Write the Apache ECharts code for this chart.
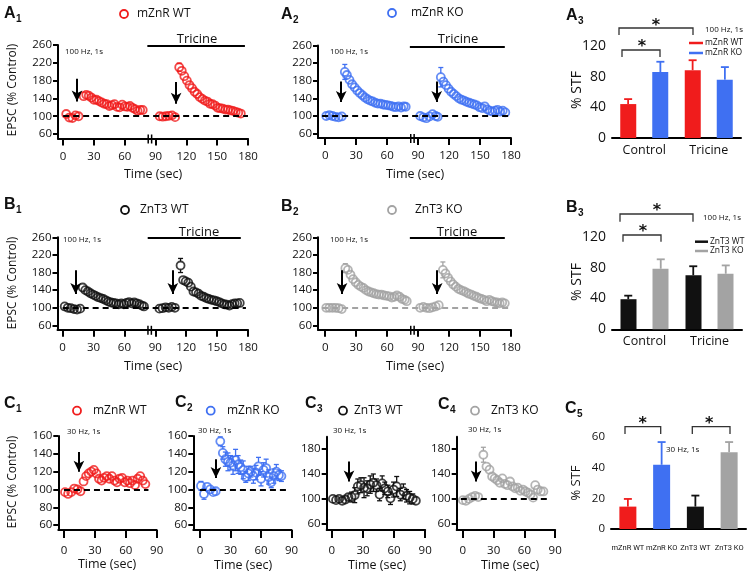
<!DOCTYPE html>
<html>
<head>
<meta charset="utf-8">
<script src="https://cdn.jsdelivr.net/npm/echarts@6/dist/echarts.min.js"></script>
<style>
html, body { margin: 0; background: #fff; }
#chart { width: 750px; height: 575px; }
</style>
</head>
<body>
<div id="chart"></div>
<script>
// ---------- data ----------
// A1 mZnR WT, 100 Hz
const a1Time = [3, 6, 9, 12, 15,
  20, 22.5, 25, 27.5, 30, 32.5, 35, 37.5, 40, 42.5, 45, 47.5, 50, 52.5, 55, 57.5, 60, 62.5, 65, 67.5, 70, 72.5, 75, 77.5,
  94, 97, 100, 103, 106, 109,
  113, 115.5, 118, 120.5, 123, 125.5, 128, 130.5, 133, 135.5, 138, 140.5, 143, 145.5, 148, 150.5, 153, 155.5, 158, 160.5, 163, 165.5, 168, 170.5, 173]
const a1Val = [105, 97, 96, 102, 100,
  145, 148, 146, 142, 137, 137, 134, 131, 128, 127, 123, 125, 127, 121, 120, 126, 122, 121, 123, 119, 116, 112, 114, 114,
  100, 99, 100, 101, 102, 98,
  210, 202, 190, 180, 170, 163, 155, 150, 143, 139, 135, 133, 128, 127, 124, 119, 118, 117, 115, 115, 113, 112, 110, 108, 106]
const a1Err = [0, 0, 0, 0, 0,
  0, 0, 0, 0, 0, 0, 0, 0, 0, 0, 0, 0, 0, 0, 0, 0, 0, 0, 0, 0, 0, 0, 0, 0,
  0, 0, 0, 0, 0, 0,
  9, 5, 0, 0, 0, 0, 0, 0, 0, 0, 0, 0, 0, 0, 0, 0, 0, 0, 0, 0, 0, 0, 0, 0, 0]

// A2 mZnR KO, 100 Hz
const a2Time = [1, 4, 7, 10, 13, 16,
  19, 21, 23.5, 26, 28.5, 31, 33.5, 36, 38.5, 41, 43.5, 46, 48.5, 51, 53.5, 56, 58.5, 61, 63.5, 66, 68.5, 71, 73.5, 76, 78,
  92, 95, 98, 101, 104, 107, 109,
  112, 114.5, 117, 119.5, 122, 124.5, 127, 129.5, 132, 134.5, 137, 139.5, 142, 144.5, 147, 149.5, 152, 154.5, 157, 159.5, 162, 164.5, 167, 169.5, 172, 174.5]
const a2Val = [100, 102, 100, 98, 97, 99,
  200, 193, 182, 172, 165, 158, 152, 147, 142, 138, 135, 133, 130, 128, 128, 126, 125, 124, 123, 121, 120, 122, 119, 122, 121,
  100, 97, 95, 99, 104, 100, 98,
  188, 178, 170, 162, 155, 150, 145, 140, 137, 135, 132, 130, 128, 126, 124, 120, 118, 122, 115, 112, 110, 112, 114, 110, 112, 108]
const a2Err = [0, 0, 0, 0, 0, 0,
  17, 8, 0, 0, 0, 0, 0, 0, 0, 0, 0, 0, 0, 0, 0, 0, 0, 0, 0, 0, 0, 0, 0, 0, 0,
  0, 0, 0, 0, 0, 0, 0,
  22, 8, 0, 0, 0, 0, 0, 0, 0, 0, 0, 0, 0, 0, 0, 0, 0, 0, 0, 0, 0, 0, 0, 0, 0, 0]

// B1 ZnT3 WT, 100 Hz
const b1Time = [2, 5, 8, 11, 14, 17,
  19.5, 22, 24.5, 27, 29.5, 32, 34.5, 37, 39.5, 42, 44.5, 47, 49.5, 52, 54.5, 57, 59.5, 62, 64.5, 67, 69.5, 72, 74.5, 77, 79,
  94, 97, 100, 103, 106, 109,
  114.5, 117, 119.5, 122, 124.5, 127, 129.5, 132, 134.5, 137, 139.5, 142, 144.5, 147, 149.5, 152, 154.5, 157, 159.5, 162, 164.5, 167, 169.5, 172]
const b1Val = [103, 100, 99, 97, 96, 98,
  146, 140, 137, 133, 130, 127, 124, 122, 120, 117, 114, 112, 111, 110, 108, 110, 108, 111, 113, 110, 112, 110, 108, 105, 103,
  98, 99, 101, 100, 102, 100,
  196, 163, 160, 157, 148, 137, 135, 132, 127, 125, 122, 120, 118, 117, 115, 113, 110, 108, 107, 105, 108, 110, 110, 111]
const b1Err = [0, 0, 0, 0, 0, 0,
  0, 0, 0, 0, 0, 0, 0, 0, 0, 0, 0, 0, 0, 0, 0, 0, 0, 0, 0, 0, 0, 0, 0, 0, 0,
  0, 0, 0, 0, 0, 0,
  16, 0, 0, 0, 0, 0, 0, 0, 0, 0, 0, 0, 0, 0, 0, 0, 0, 0, 0, 0, 0, 0, 0, 0]

// B2 ZnT3 KO, 100 Hz
const b2Time = [1, 4, 7, 10, 13, 16,
  19.5, 22, 24.5, 27, 29.5, 32, 34.5, 37, 39.5, 42, 44.5, 47, 49.5, 52, 54.5, 57, 59.5, 62, 64.5, 67, 69.5, 72, 74.5, 77, 79,
  92, 95, 98, 101, 104, 107, 110,
  114, 116.5, 119, 121.5, 124, 126.5, 129, 131.5, 134, 136.5, 139, 141.5, 144, 146.5, 149, 151.5, 154, 156.5, 159, 161.5, 164, 166.5, 169, 171.5, 174]
const b2Val = [100, 100, 100, 100, 99, 97,
  190, 186, 175, 165, 158, 152, 148, 145, 140, 137, 135, 133, 131, 130, 130, 128, 127, 126, 123, 125, 128, 125, 120, 118, 115,
  100, 102, 100, 99, 101, 103, 106,
  186, 178, 168, 160, 153, 148, 143, 140, 138, 135, 132, 130, 127, 125, 122, 120, 118, 115, 118, 115, 113, 112, 110, 112, 110]
const b2Err = [0, 0, 0, 0, 0, 0,
  10, 6, 0, 0, 0, 0, 0, 0, 0, 0, 0, 0, 0, 0, 0, 0, 0, 0, 0, 0, 0, 0, 0, 0, 0,
  0, 0, 0, 0, 0, 0, 0,
  18, 6, 0, 0, 0, 0, 0, 0, 0, 0, 0, 0, 0, 0, 0, 0, 0, 0, 0, 0, 0, 0, 0, 0, 0]

// C1-C4, 30 Hz
const c1Time = [1, 4, 7, 10, 13, 16,
  19, 21.5, 24, 26.5, 29, 31.5, 34, 36.5, 39, 41.5, 44, 46.5, 49, 51.5, 54, 56.5, 59, 61.5, 64, 66.5, 69, 71.5, 74, 76.5, 79]
const c1Val = [97, 95, 97, 101, 100, 98,
  109, 115, 118, 120, 122, 118, 112, 110, 113, 115, 112, 115, 110, 108, 112, 113, 108, 110, 107, 110, 105, 112, 115, 110, 106]
const c1Err = [0, 0, 0, 0, 0, 0,
  0, 0, 0, 0, 0, 0, 0, 0, 0, 0, 0, 0, 0, 0, 0, 0, 0, 0, 0, 0, 0, 0, 0, 0, 0]

const c2Time = [1, 4, 7, 10, 13, 15.5,
  20, 22.5, 25, 27.5, 30, 32.5, 35, 37.5, 40, 42.5, 45, 47.5, 50, 52.5, 55, 57.5, 60, 62.5, 65, 67.5, 70, 72.5, 75, 77.5, 80]
const c2Val = [104, 95, 103, 100, 97, 98,
  154, 141, 134, 131, 130, 127, 133, 128, 125, 122, 114, 118, 120, 115, 119, 126, 112, 122, 124, 114, 108, 115, 120, 116, 115]
const c2Err = [5, 6, 4, 3, 4, 3,
  5, 7, 8, 10, 8, 10, 12, 10, 8, 10, 6, 8, 6, 8, 8, 10, 8, 8, 10, 8, 6, 8, 8, 6, 6]

const c3Time = [1, 4, 7, 10, 13, 16,
  19, 22, 25, 28, 31, 34, 37, 40, 43, 46, 48.5, 51, 54, 56.5, 59.5, 62.5, 66, 69, 72, 75, 78, 81]
const c3Val = [100, 98, 100, 97, 99, 103,
  103, 106, 120, 122, 118, 117, 123, 126, 122, 107, 125, 117, 112, 101, 115, 120, 107, 112, 105, 102, 100, 97]
const c3Err = [4, 4, 4, 4, 4, 6,
  8, 12, 12, 12, 16, 12, 14, 14, 10, 10, 12, 10, 10, 10, 12, 16, 10, 12, 10, 10, 8, 6]

const c4Time = [0, 3, 6, 9, 12, 15,
  20, 23, 26, 28.5, 31, 33.5, 36, 38.5, 41, 43.5, 46, 48.5, 51, 53.5, 56, 58.5, 61, 63.5, 66, 68.5, 70.5, 73, 76, 78.5]
const c4Val = [98, 97, 100, 103, 105, 103,
  171, 152, 147, 136, 133, 130, 126, 133, 124, 122, 128, 120, 117, 118, 113, 115, 112, 110, 107, 102, 122, 115, 112, 112]
const c4Err = [0, 0, 0, 0, 0, 0,
  12, 6, 5, 0, 5, 0, 0, 0, 0, 0, 0, 0, 0, 0, 0, 0, 0, 0, 0, 0, 0, 0, 0, 0]

// bar panels (% STF)
const stfCats = ['Control', 'Tricine']
const a3Wt = [44.5, 89]
const a3WtErr = [6.5, 13]
const a3Ko = [86.5, 76.5]
const a3KoErr = [13.5, 16.5]
const b3Wt = [39, 70]
const b3WtErr = [4.6, 11.7]
const b3Ko = [78.5, 72]
const b3KoErr = [12.2, 10.8]
const c5Cats = ['mZnR WT', 'mZnR KO', 'ZnT3 WT', 'ZnT3 KO']
const c5Val = [14.6, 41.9, 14.6, 50.1]
const c5Err = [5, 14.8, 7.2, 6.6]

// tick labels
const timeTicks = [0, 30, 60, 90, 120, 150, 180]
const shortTimeTicks = [0, 30, 60, 90]
const epscTicks = [60, 100, 140, 180, 220, 260]
const c12Ticks = [60, 80, 100, 120, 140, 160]
const c34Ticks = [60, 100, 140, 180]
const stfTicks = [0, 40, 80, 120]
const c5Ticks = [0, 20, 40, 60]

// ---------- styles ----------
const RED = '#f01c1c'
const BLUE = '#3f70f2'
const BLACK = '#111111'
const GRAY = '#a3a3a3'
const FONT = 'Open Sans'
const c5Colors = [RED, BLUE, BLACK, GRAY]

const chart = echarts.init(document.getElementById('chart'))

const grids = [
  { left: 58, top: 45, width: 190, height: 93.5 }, // A1
  { left: 318, top: 45.5, width: 193, height: 92.5 }, // A2
  { left: 612, top: 46.5, width: 129, height: 91.5 }, // A3
  { left: 57.5, top: 237.3, width: 190.5, height: 92.5 }, // B1
  { left: 318, top: 237.3, width: 193, height: 92.5 }, // B2
  { left: 612, top: 236.7, width: 130, height: 92.6 }, // B3
  { left: 58.3, top: 436, width: 98.4, height: 94 }, // C1
  { left: 193.3, top: 436, width: 98.3, height: 94 }, // C2
  { left: 326.7, top: 436.7, width: 98.5, height: 93.3 }, // C3
  { left: 456.7, top: 436.7, width: 98.5, height: 93.3 }, // C4
  { left: 611, top: 437, width: 135, height: 92 } // C5
]

const axisLine = { onZero: false, lineStyle: { color: '#000', width: 2 } }

function timeX (gi, min, max, ticks, margin, tickLen) {
  return {
    type: 'value', gridIndex: gi, min: min, max: max,
    axisLine: axisLine,
    axisTick: { customValues: ticks, length: tickLen, lineStyle: { color: '#000', width: 2 } },
    axisLabel: { customValues: ticks, margin: margin, fontSize: 11.5, fontFamily: FONT, color: '#111' },
    splitLine: { show: false }
  }
}

function catX (gi, cats, size, margin, family) {
  return {
    type: 'category', gridIndex: gi, data: cats,
    axisLine: axisLine,
    axisTick: { length: 7, lineStyle: { color: '#000', width: 2 } },
    axisLabel: { interval: 0, margin: margin, fontSize: size, fontFamily: family || FONT, color: '#111' },
    splitLine: { show: false }
  }
}

function valY (gi, min, max, ticks, size) {
  return {
    type: 'value', gridIndex: gi, min: min, max: max,
    axisLine: axisLine,
    axisTick: { customValues: ticks, length: 5, lineStyle: { color: '#000', width: 2 } },
    axisLabel: { customValues: ticks, margin: 6, fontSize: size, fontFamily: FONT, color: '#111' },
    splitLine: { show: false }
  }
}

// markLine pieces, in data coordinates
function dash (x1, x2, col) {
  return [{ coord: [x1, 100], lineStyle: { type: [6, 4], width: 2, color: col || '#000' } }, { coord: [x2, 100] }]
}
function arrow (t, y1, y2) {
  return [{ coord: [t, y1], lineStyle: { type: 'solid', width: 2, color: '#000' } }, { coord: [t, y2], symbol: 'arrow' }]
}
function drugBar (x1, x2) {
  return [{ coord: [x1, 258], lineStyle: { type: 'solid', width: 2, color: '#000' } }, { coord: [x2, 258] }]
}

function scatter (gi, T, V, color, marks) {
  return {
    type: 'scatter', xAxisIndex: gi, yAxisIndex: gi, silent: true, z: 3,
    data: T.map((t, i) => [t, V[i]]),
    symbol: 'circle', symbolSize: 8,
    itemStyle: { color: 'rgba(0,0,0,0)', borderColor: color, borderWidth: 1.8 },
    markLine: {
      silent: true, symbol: 'none', symbolSize: [8, 11], animation: false,
      label: { show: false }, emphasis: { disabled: true },
      data: marks
    }
  }
}

// error bars drawn outside the open circles
function pointErr (gi, T, V, E, color) {
  const data = []
  T.forEach((t, i) => { if (E[i] > 0) data.push([t, V[i], E[i]]) })
  return {
    type: 'custom', xAxisIndex: gi, yAxisIndex: gi, silent: true, z: 2, data: data,
    renderItem (params, api) {
      const x = api.value(0); const y = api.value(1); const e = api.value(2)
      const c = api.coord([x, y]); const top = api.coord([x, y + e]); const bot = api.coord([x, y - e])
      const r = 4
      const st = { stroke: color, lineWidth: 1.3 }
      const ch = []
      if (c[1] - top[1] > r) {
        ch.push({ type: 'line', shape: { x1: c[0], y1: c[1] - r, x2: c[0], y2: top[1] }, style: st })
        ch.push({ type: 'line', shape: { x1: c[0] - 2.5, y1: top[1], x2: c[0] + 2.5, y2: top[1] }, style: st })
      }
      if (bot[1] - c[1] > r) {
        ch.push({ type: 'line', shape: { x1: c[0], y1: c[1] + r, x2: c[0], y2: bot[1] }, style: st })
        ch.push({ type: 'line', shape: { x1: c[0] - 2.5, y1: bot[1], x2: c[0] + 2.5, y2: bot[1] }, style: st })
      }
      return { type: 'group', children: ch }
    }
  }
}

function barErr (gi, V, E, color, shift) {
  return {
    type: 'custom', xAxisIndex: gi, yAxisIndex: gi, silent: true, z: 3,
    data: V.map((v, i) => [i, v, E[i]]),
    renderItem (params, api) {
      const i = api.value(0); const v = api.value(1); const e = api.value(2)
      const w = api.size([1, 0])[0]
      const b = api.coord([i, v]); const t = api.coord([i, v + e])
      const x = b[0] + w * shift
      const col = Array.isArray(color) ? color[i] : color
      const st = { stroke: col, lineWidth: 1.8 }
      return {
        type: 'group',
        children: [
          { type: 'line', shape: { x1: x, y1: b[1], x2: x, y2: t[1] }, style: st },
          { type: 'line', shape: { x1: x - 4, y1: t[1], x2: x + 4, y2: t[1] }, style: st }
        ]
      }
    }
  }
}

const series = [
  scatter(0, a1Time, a1Val, RED, [dash(0, 180), arrow(13.5, 184, 133), arrow(110, 177, 128), drugBar(82, 177)]),
  pointErr(0, a1Time, a1Val, a1Err, RED),
  scatter(1, a2Time, a2Val, BLUE, [dash(-3, 180), arrow(15.5, 178, 132), arrow(108, 178, 132), drugBar(82, 174)]),
  pointErr(1, a2Time, a2Val, a2Err, BLUE),
  { type: 'bar', xAxisIndex: 2, yAxisIndex: 2, data: a3Wt, barWidth: 16, barGap: '100%', itemStyle: { color: RED }, silent: true },
  { type: 'bar', xAxisIndex: 2, yAxisIndex: 2, data: a3Ko, barWidth: 16, barGap: '100%', itemStyle: { color: BLUE }, silent: true },
  barErr(2, a3Wt, a3WtErr, RED, -0.25),
  barErr(2, a3Ko, a3KoErr, BLUE, 0.25),
  scatter(3, b1Time, b1Val, BLACK, [dash(0, 178), arrow(12.6, 185, 131), arrow(107, 185, 131), drugBar(82.6, 173)]),
  pointErr(3, b1Time, b1Val, b1Err, BLACK),
  scatter(4, b2Time, b2Val, GRAY, [dash(-3, 180, GRAY), arrow(16.3, 185, 131), arrow(108.5, 185, 131), drugBar(82, 174)]),
  pointErr(4, b2Time, b2Val, b2Err, GRAY),
  { type: 'bar', xAxisIndex: 5, yAxisIndex: 5, data: b3Wt, barWidth: 16, barGap: '100%', itemStyle: { color: BLACK }, silent: true },
  { type: 'bar', xAxisIndex: 5, yAxisIndex: 5, data: b3Ko, barWidth: 16, barGap: '100%', itemStyle: { color: GRAY }, silent: true },
  barErr(5, b3Wt, b3WtErr, BLACK, -0.25),
  barErr(5, b3Ko, b3KoErr, GRAY, 0.25),
  scatter(6, c1Time, c1Val, RED, [dash(0, 82), arrow(14.5, 142, 120)]),
  pointErr(6, c1Time, c1Val, c1Err, RED),
  scatter(7, c2Time, c2Val, BLUE, [dash(0, 85), arrow(15.7, 134, 113)]),
  pointErr(7, c2Time, c2Val, c2Err, BLUE),
  scatter(8, c3Time, c3Val, BLACK, [arrow(16.5, 160, 128)]),
  pointErr(8, c3Time, c3Val, c3Err, BLACK),
  scatter(9, c4Time, c4Val, GRAY, [dash(-2, 82, '#000'), arrow(13, 160, 128)]),
  pointErr(9, c4Time, c4Val, c4Err, GRAY),
  {
    type: 'bar', xAxisIndex: 10, yAxisIndex: 10, barWidth: 17, silent: true,
    data: c5Val.map((v, i) => ({ value: v, itemStyle: { color: c5Colors[i] } }))
  },
  barErr(10, c5Val, c5Err, c5Colors, 0)
]

const option = {
  animation: false,
  grid: grids,
  xAxis: [
    timeX(0, -5, 180, timeTicks, 12, 7),
    timeX(1, -7, 180, timeTicks, 12, 7),
    catX(2, stfCats, 12.5, 6),
    timeX(3, -5, 180, timeTicks, 12, 7),
    timeX(4, -7, 180, timeTicks, 12, 7),
    catX(5, stfCats, 12.5, 6),
    timeX(6, -5.5, 90, shortTimeTicks, 15, 8),
    timeX(7, -6.5, 90, shortTimeTicks, 15, 8),
    timeX(8, -5, 90, shortTimeTicks, 15, 8),
    timeX(9, -6, 90, shortTimeTicks, 15, 8),
    catX(10, c5Cats, 7.5, 15, 'Roboto')
  ],
  yAxis: [
    valY(0, 50, 260, epscTicks, 11.5),
    valY(1, 50, 260, epscTicks, 11.5),
    valY(2, 0, 120, stfTicks, 14),
    valY(3, 50, 260, epscTicks, 11.5),
    valY(4, 50, 260, epscTicks, 11.5),
    valY(5, 0, 120, stfTicks, 14),
    valY(6, 54.5, 160, c12Ticks, 11.5),
    valY(7, 54.5, 160, c12Ticks, 11.5),
    valY(8, 50, 200, c34Ticks, 11.5),
    valY(9, 50, 200, c34Ticks, 11.5),
    valY(10, 0, 60, c5Ticks, 11.5)
  ],
  series: series
}

chart.setOption(option)

// ---------- annotations ----------
const G = []
function txt (x, y, s, size, extra) {
  G.push({
    type: 'text', x: x, y: y, silent: true,
    style: Object.assign({ text: s, fontSize: size, fontFamily: FONT, fill: '#111', align: 'left', verticalAlign: 'middle' }, extra || {})
  })
}
function vtxt (x, y, s, size) {
  G.push({
    type: 'text', x: x, y: y, rotation: Math.PI / 2, silent: true,
    style: { text: s, fontSize: size, fontFamily: FONT, fill: '#111', align: 'center', verticalAlign: 'middle' }
  })
}
function panel (x, y, letter, n) {
  txt(x, y, letter, 16, { fontWeight: 'bold', fontFamily: 'Liberation Sans' })
  txt(x + 12, y + 5, n, 10, { fontWeight: 'bold', fontFamily: 'Liberation Sans' })
}
function dot (cx, cy, col) {
  G.push({ type: 'circle', silent: true, shape: { cx: cx, cy: cy, r: 4 }, style: { fill: 'none', stroke: col, lineWidth: 1.8 } })
}
function seg (x1, y1, x2, y2, col, w) {
  G.push({ type: 'line', silent: true, shape: { x1: x1, y1: y1, x2: x2, y2: y2 }, style: { stroke: col, lineWidth: w } })
}
function bracket (x1, x2, yTop, yLeg, starX, starY) {
  G.push({
    type: 'polyline', silent: true,
    shape: { points: [[x1, yLeg], [x1, yTop], [x2, yTop], [x2, yLeg]] },
    style: { stroke: '#333', lineWidth: 1.3, fill: 'none' }
  })
  txt(starX, starY + 4, '*', 16, { align: 'center', fontFamily: 'DejaVu Sans', fontWeight: 'bold' })
}

panel(4, 14, 'A', '1'); panel(281, 15, 'A', '2'); panel(566, 16, 'A', '3')
panel(4, 205, 'B', '1'); panel(281, 207, 'B', '2'); panel(566, 208, 'B', '3')
panel(4, 404, 'C', '1'); panel(175, 403, 'C', '2'); panel(305, 404, 'C', '3'); panel(438, 405, 'C', '4'); panel(565, 409, 'C', '5')

dot(124, 14, RED); txt(137, 14, 'mZnR WT', 12)
dot(392, 13, BLUE); txt(411, 13, 'mZnR KO', 12)
dot(125, 210, BLACK); txt(140, 210, 'ZnT3 WT', 12)
dot(392, 210, GRAY); txt(415, 210, 'ZnT3 KO', 12)
dot(77, 410.7, RED); txt(93, 410.7, 'mZnR WT', 12)
dot(210.7, 410.7, BLUE); txt(227, 410.7, 'mZnR KO', 12)
dot(343, 410.7, BLACK); txt(354, 410.7, 'ZnT3 WT', 12)
dot(475, 410.7, GRAY); txt(491, 410.7, 'ZnT3 KO', 12)

txt(65, 52, '100 Hz, 1s', 8); txt(330, 52, '100 Hz, 1s', 8)
txt(63, 240, '100 Hz, 1s', 8); txt(330, 240, '100 Hz, 1s', 8)
txt(705, 30, '100 Hz, 1s', 8); txt(703, 218, '100 Hz, 1s', 8)
txt(67, 432, '30 Hz, 1s', 8); txt(198, 431, '30 Hz, 1s', 8); txt(333, 431, '30 Hz, 1s', 8)
txt(468, 430, '30 Hz, 1s', 8); txt(666, 450, '30 Hz, 1s', 8)

txt(197, 39, 'Tricine', 13, { align: 'center' }); txt(458, 39, 'Tricine', 13, { align: 'center' })
txt(199, 232, 'Tricine', 13, { align: 'center' }); txt(457, 232, 'Tricine', 13, { align: 'center' })

;[[153, 174], [415, 174], [153, 366], [415, 366], [107, 564], [243, 565], [377, 565], [510, 565]].forEach(p => {
  txt(p[0], p[1], 'Time (sec)', 12.5, { align: 'center' })
})
vtxt(13, 90, 'EPSC (% Control)', 12); vtxt(13, 283, 'EPSC (% Control)', 12); vtxt(13, 482, 'EPSC (% Control)', 12)
vtxt(577, 90, '% STF', 14); vtxt(577, 282, '% STF', 14); vtxt(576, 483, '% STF', 13)

// bar-panel legends
seg(689, 43, 703, 43, RED, 2.5); txt(705, 43, 'mZnR WT', 8.5)
seg(689, 53, 703, 53, BLUE, 2.5); txt(705, 53, 'mZnR KO', 8.5)
seg(695, 241.7, 708, 241.7, BLACK, 2.5); txt(710, 241.7, 'ZnT3 WT', 8.5)
seg(695, 251, 708, 251, GRAY, 2.5); txt(710, 251, 'ZnT3 KO', 8.5)

// significance brackets
bracket(622, 660, 50, 57, 642, 43); bracket(619, 693, 28, 35, 656, 22)
bracket(623, 661, 235, 241.7, 643, 228); bracket(620, 693, 214, 221.7, 657, 207)
bracket(625, 660.7, 426.7, 434, 642.7, 420); bracket(692.3, 730, 426.7, 434, 709.3, 420)

// axis break marks on the time axes
;[0, 1, 3, 4].forEach(gi => {
  const p = chart.convertToPixel({ gridIndex: gi }, [84.5, 50])
  G.push({ type: 'rect', silent: true, shape: { x: p[0] - 1.7, y: p[1] - 1.5, width: 3.4, height: 3 }, style: { fill: '#fff' } })
  seg(p[0] - 1.7, p[1] - 4, p[0] - 1.7, p[1] + 5, '#000', 1.5)
  seg(p[0] + 1.7, p[1] - 4, p[0] + 1.7, p[1] + 5, '#000', 1.5)
})

chart.setOption({ graphic: G })
</script>
</body>
</html>
